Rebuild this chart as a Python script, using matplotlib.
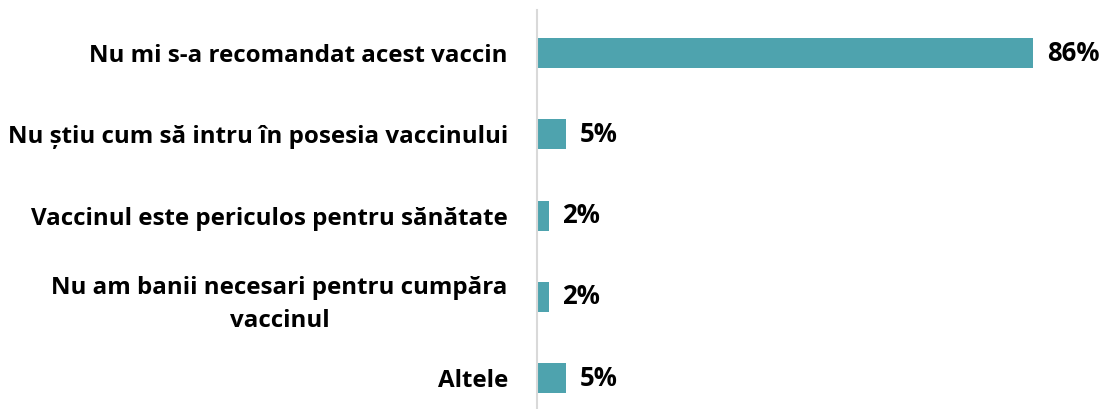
import matplotlib
matplotlib.use('Agg')
import matplotlib.pyplot as plt

# Data
categories = [
    "Nu mi s-a recomandat acest vaccin",
    "Nu știu cum să intru în posesia vaccinului",
    "Vaccinul este periculos pentru sănătate",
    "Nu am banii necesari pentru cumpăra\nvaccinul",
    "Altele",
]
values = [86, 5, 2, 2, 5]

bar_color = '#4EA3AE'
font = 'Open Sans'

fig = plt.figure(figsize=(11.03, 4.09), dpi=100)
ax = fig.add_axes([537 / 1103, 0, 1 - 537 / 1103, 1 - 10 / 409])

y = list(range(len(categories)))
ax.barh(y, values, height=0.37, color=bar_color)

ax.set_xlim(0, (1103 - 537) / 5.77)
ax.set_ylim(4.38, -0.53)

for yi, v in zip(y, values):
    ax.annotate(f'{v}%', xy=(v, yi), xytext=(10, 0), textcoords='offset points',
                va='center', ha='left', fontsize=18.5, fontweight='bold', family=font)

ax.set_yticks(y)
ax.set_yticklabels(categories, fontsize=17.4, fontweight='bold', family=font,
                   multialignment='center', linespacing=1.5)
ax.tick_params(axis='y', length=0, pad=21)
ax.set_xticks([])

for s in ['top', 'right', 'bottom']:
    ax.spines[s].set_visible(False)
ax.spines['left'].set_color('#D9D9D9')
ax.spines['left'].set_linewidth(1.5)

fig.savefig('out.png', dpi=100)
plt.close()
